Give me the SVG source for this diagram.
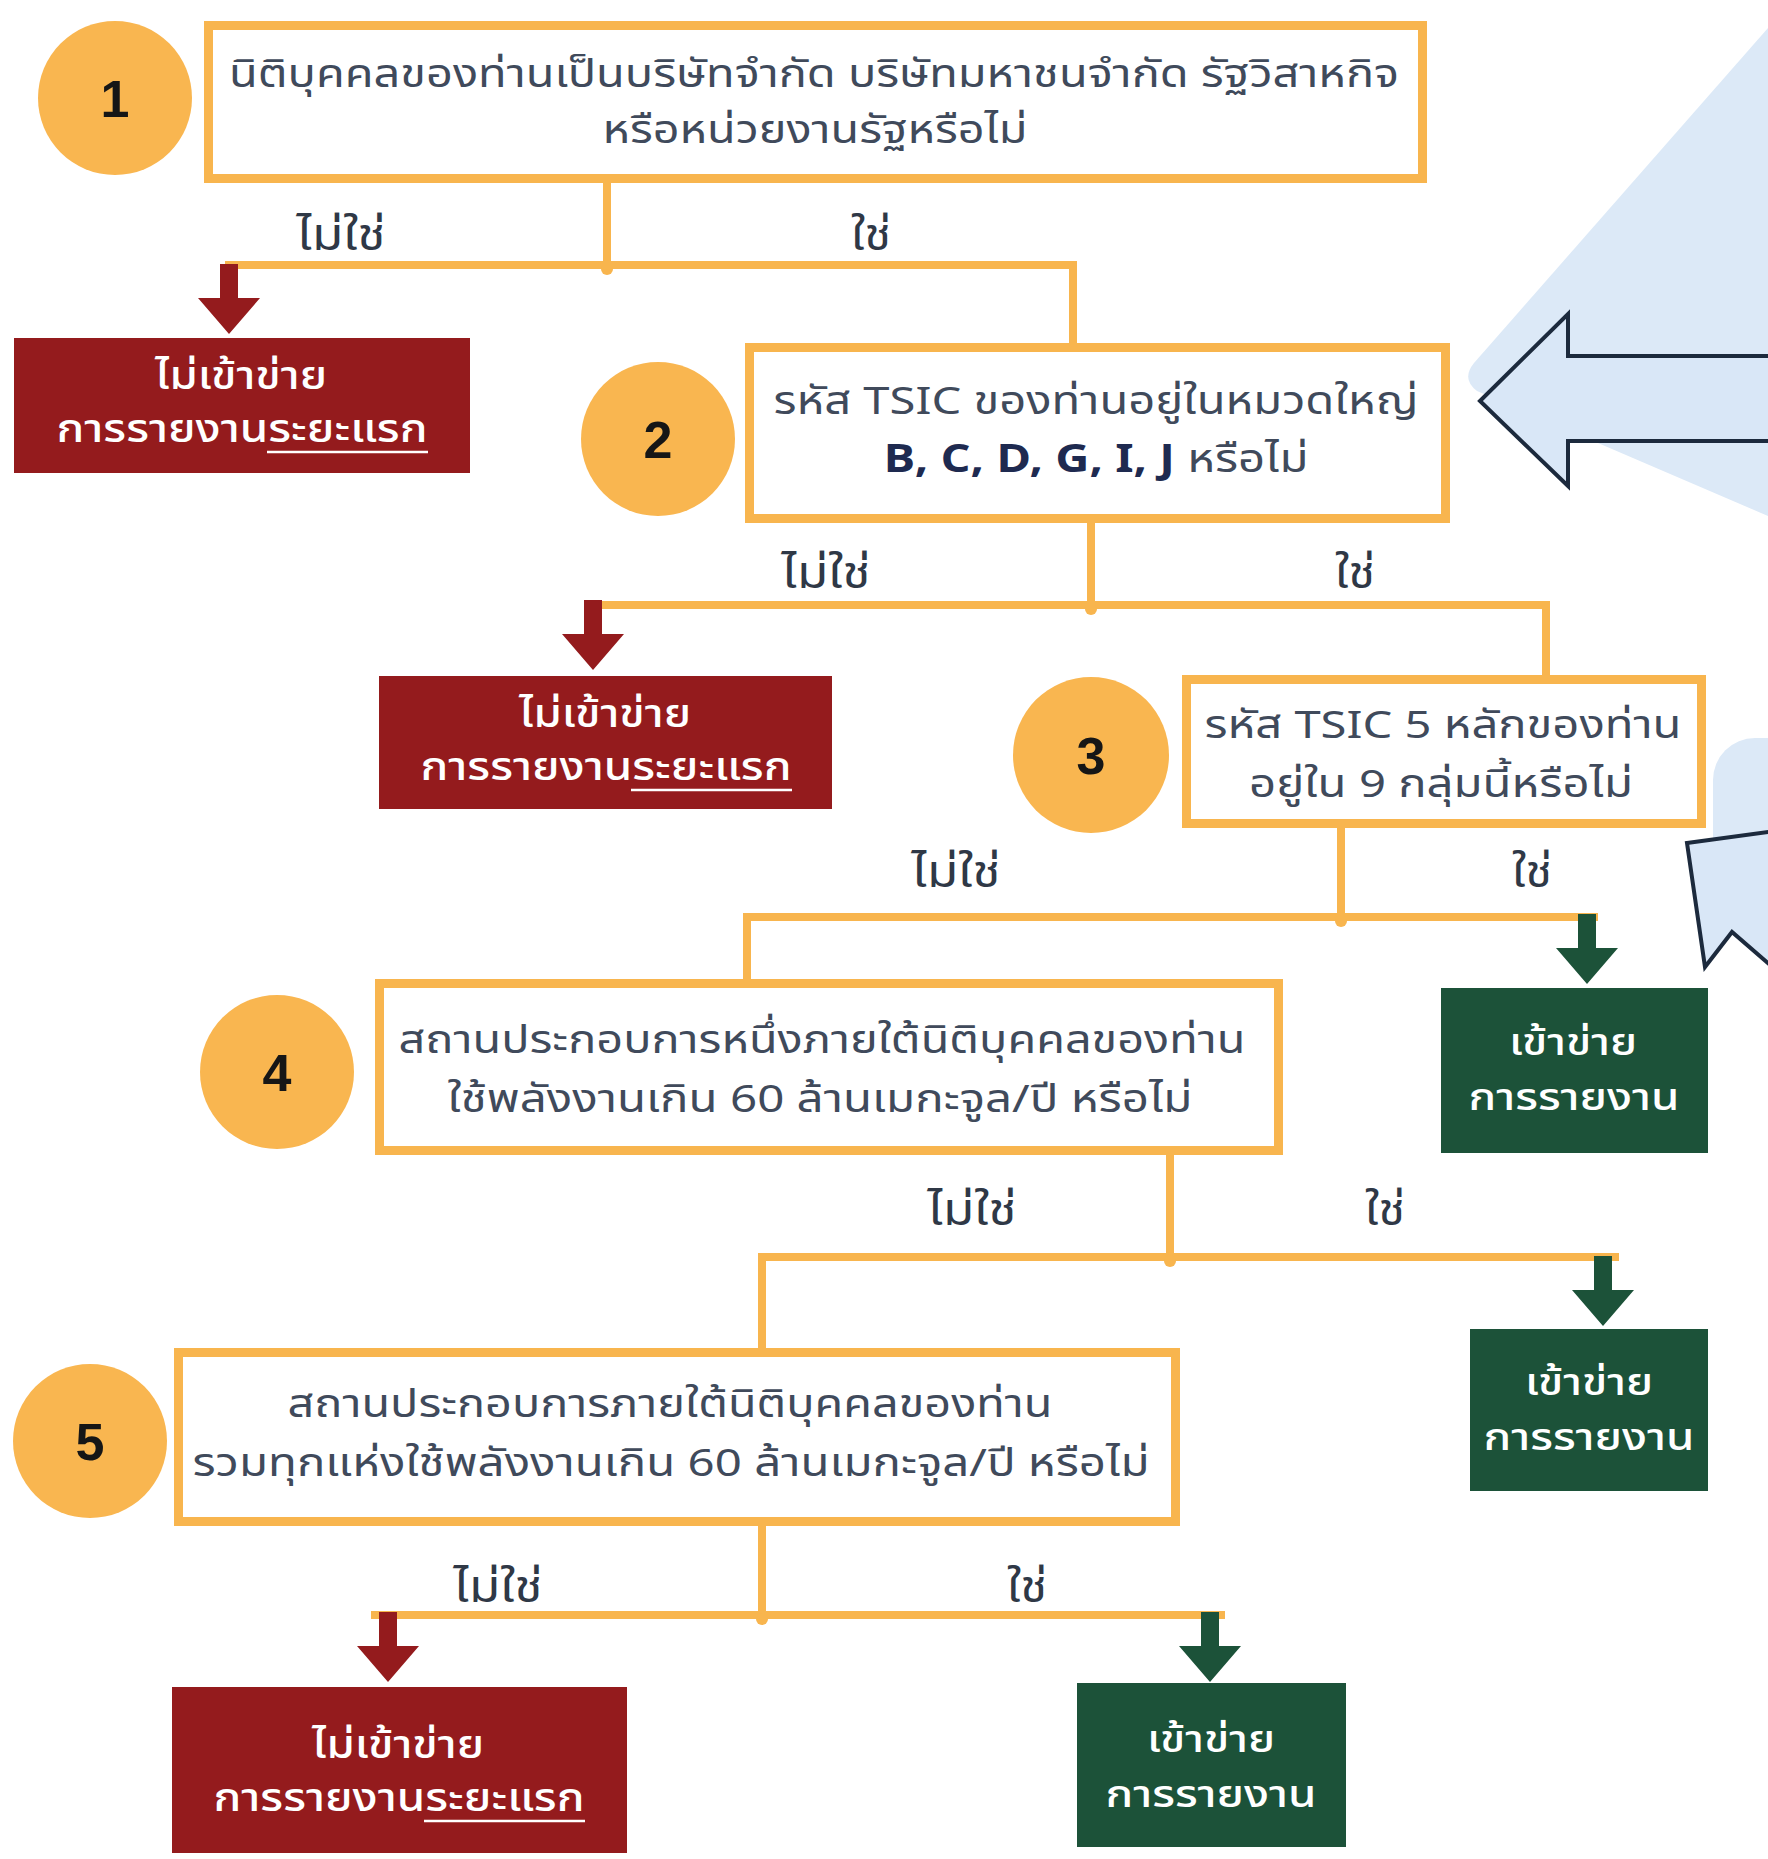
<svg xmlns="http://www.w3.org/2000/svg" width="1768" height="1859" viewBox="0 0 1768 1859">
<style>
.bg{fill:#ffffff}
.sky{fill:#dce9f7}
.hollow{fill:#d9e7f7;stroke:#1c2a3d;stroke-width:4;stroke-linejoin:miter}
.q{fill:#ffffff;stroke:#f8b54e;stroke-width:9}
.num{fill:#f9b650}
.numt{font-family:'Liberation Sans',Arial,sans-serif;font-weight:bold;font-size:52px;fill:#161616;text-anchor:middle}
.qt{font-family:'Noto Sans Thai','Noto Sans','Liberation Sans',sans-serif;font-size:39px;fill:#404a5b;text-anchor:middle}
.bold{font-weight:bold;fill:#1e2a50}
.lbl{font-family:'Noto Sans Thai','Noto Sans','Liberation Sans',sans-serif;font-size:44px;fill:#2f3846;text-anchor:middle}
.red{fill:#941b1d}
.green{fill:#1c5239}
.rt{font-family:'Noto Sans Thai','Noto Sans','Liberation Sans',sans-serif;font-size:40px;fill:#ffffff;text-anchor:middle;font-weight:500}
.gt{font-family:'Noto Sans Thai','Noto Sans','Liberation Sans',sans-serif;font-size:37px;fill:#ffffff;text-anchor:middle;font-weight:500}
.ul{stroke:#ffffff;stroke-width:2.5}
.conn{fill:none;stroke:#f8b54e;stroke-width:8;stroke-linejoin:miter}
.dot{fill:#f8b54e}
</style>
<defs>
<path id="arr" d="M-9,0 L9,0 L9,34 L31,34 L0,70 L-31,34 L-9,34 Z"/>
</defs>
<rect class="bg" x="0" y="0" width="1768" height="1859"/>

<g id="background-shapes">
<path class="sky" d="M1768,28 L1474,363 Q1461,379 1477,391 L1768,516 Z"/>
<path class="hollow" d="M1480,401 L1568,314 L1568,356 L1775,356 L1775,441 L1568,441 L1568,486 Z"/>
<rect class="sky" x="1713" y="738" width="130" height="190" rx="42"/>
<path class="hollow" d="M1687,843 L1790,829 L1790,982 L1732,932 L1705,967 Z"/>
</g>

<g id="connectors">
<path class="conn" d="M607,179 V265 M225,265 H1073 V347"/>
<circle class="dot" cx="607" cy="269" r="6"/>
<path class="conn" d="M1091,519 V605 M588,605 H1546 V679"/>
<circle class="dot" cx="1091" cy="609" r="6"/>
<path class="conn" d="M1341,824 V917 M747,917 H1598 M747,913 V983"/>
<circle class="dot" cx="1341" cy="921" r="6"/>
<path class="conn" d="M1170,1153 V1257 M762,1257 H1619 M762,1253 V1352"/>
<circle class="dot" cx="1170" cy="1261" r="6"/>
<path class="conn" d="M762,1522 V1615 M371,1615 H1225"/>
<circle class="dot" cx="762" cy="1619" r="6"/>
<use href="#arr" class="red" x="229" y="264"/>
<use href="#arr" class="red" x="593" y="600"/>
<use href="#arr" class="green" x="1587" y="914"/>
<use href="#arr" class="green" x="1603" y="1256"/>
<use href="#arr" class="red" x="388" y="1612"/>
<use href="#arr" class="green" x="1210" y="1612"/>
<text class="lbl" x="341" y="250" textLength="89" lengthAdjust="spacingAndGlyphs">ไม่ใช่</text>
<text class="lbl" x="871" y="250" textLength="40" lengthAdjust="spacingAndGlyphs">ใช่</text>
<text class="lbl" x="826" y="588" textLength="89" lengthAdjust="spacingAndGlyphs">ไม่ใช่</text>
<text class="lbl" x="1355" y="588" textLength="40" lengthAdjust="spacingAndGlyphs">ใช่</text>
<text class="lbl" x="956" y="887" textLength="89" lengthAdjust="spacingAndGlyphs">ไม่ใช่</text>
<text class="lbl" x="1532" y="887" textLength="40" lengthAdjust="spacingAndGlyphs">ใช่</text>
<text class="lbl" x="972" y="1225" textLength="89" lengthAdjust="spacingAndGlyphs">ไม่ใช่</text>
<text class="lbl" x="1385" y="1225" textLength="40" lengthAdjust="spacingAndGlyphs">ใช่</text>
<text class="lbl" x="498" y="1602" textLength="89" lengthAdjust="spacingAndGlyphs">ไม่ใช่</text>
<text class="lbl" x="1027" y="1602" textLength="40" lengthAdjust="spacingAndGlyphs">ใช่</text>
</g>

<g id="step1">
<circle class="num" cx="115" cy="98" r="77"/>
<text class="numt" x="115" y="117">1</text>
<rect class="q" x="208.5" y="25.5" width="1214" height="153"/>
<text class="qt" x="814" y="87" textLength="1170" lengthAdjust="spacingAndGlyphs">นิติบุคคลของท่านเป็นบริษัทจำกัด บริษัทมหาชนจำกัด รัฐวิสาหกิจ</text>
<text class="qt" x="815" y="143" textLength="425" lengthAdjust="spacingAndGlyphs">หรือหน่วยงานรัฐหรือไม่</text>
</g>

<g id="step2">
<circle class="num" cx="658" cy="439" r="77"/>
<text class="numt" x="658" y="458">2</text>
<rect class="q" x="749.5" y="347.5" width="696" height="171"/>
<text class="qt" x="1096" y="414" textLength="645" lengthAdjust="spacingAndGlyphs">รหัส TSIC ของท่านอยู่ในหมวดใหญ่</text>
<text class="qt" x="1096" y="472" textLength="425" lengthAdjust="spacingAndGlyphs"><tspan class="bold">B, C, D, G, I, J</tspan> หรือไม่</text>
</g>

<g id="step3">
<circle class="num" cx="1091" cy="755" r="78"/>
<text class="numt" x="1091" y="774">3</text>
<rect class="q" x="1186.5" y="679.5" width="515" height="144"/>
<text class="qt" x="1443" y="738" textLength="477" lengthAdjust="spacingAndGlyphs">รหัส TSIC 5 หลักของท่าน</text>
<text class="qt" x="1441" y="797" textLength="384" lengthAdjust="spacingAndGlyphs">อยู่ใน 9 กลุ่มนี้หรือไม่</text>
</g>

<g id="step4">
<circle class="num" cx="277" cy="1072" r="77"/>
<text class="numt" x="277" y="1091">4</text>
<rect class="q" x="379.5" y="983.5" width="899" height="167"/>
<text class="qt" x="822" y="1053" textLength="847" lengthAdjust="spacingAndGlyphs">สถานประกอบการหนึ่งภายใต้นิติบุคคลของท่าน</text>
<text class="qt" x="820" y="1112" textLength="745" lengthAdjust="spacingAndGlyphs">ใช้พลังงานเกิน 60 ล้านเมกะจูล/ปี หรือไม่</text>
</g>

<g id="step5">
<circle class="num" cx="90" cy="1441" r="77"/>
<text class="numt" x="90" y="1460">5</text>
<rect class="q" x="178.5" y="1352.5" width="997" height="169"/>
<text class="qt" x="670" y="1417" textLength="765" lengthAdjust="spacingAndGlyphs">สถานประกอบการภายใต้นิติบุคคลของท่าน</text>
<text class="qt" x="671" y="1476" textLength="957" lengthAdjust="spacingAndGlyphs">รวมทุกแห่งใช้พลังงานเกิน 60 ล้านเมกะจูล/ปี หรือไม่</text>
</g>

<g id="result1-no">
<rect class="red" x="14" y="338" width="456" height="135"/>
<text class="rt" x="241" y="389" textLength="172" lengthAdjust="spacingAndGlyphs">ไม่เข้าข่าย</text>
<text class="rt" x="242" y="442" textLength="371" lengthAdjust="spacingAndGlyphs">การรายงาน<tspan>ระยะแรก</tspan></text>
<line class="ul" x1="267" y1="452" x2="428" y2="452"/>
</g>

<g id="result2-no">
<rect class="red" x="379" y="676" width="453" height="133"/>
<text class="rt" x="605" y="727" textLength="172" lengthAdjust="spacingAndGlyphs">ไม่เข้าข่าย</text>
<text class="rt" x="606" y="780" textLength="371" lengthAdjust="spacingAndGlyphs">การรายงาน<tspan>ระยะแรก</tspan></text>
<line class="ul" x1="631" y1="790" x2="792" y2="790"/>
</g>

<g id="result3-yes">
<rect class="green" x="1441" y="988" width="267" height="165"/>
<text class="gt" x="1573" y="1055" textLength="128" lengthAdjust="spacingAndGlyphs">เข้าข่าย</text>
<text class="gt" x="1574" y="1110" textLength="211" lengthAdjust="spacingAndGlyphs">การรายงาน</text>
</g>

<g id="result4-yes">
<rect class="green" x="1470" y="1329" width="238" height="162"/>
<text class="gt" x="1589" y="1395" textLength="128" lengthAdjust="spacingAndGlyphs">เข้าข่าย</text>
<text class="gt" x="1589" y="1450" textLength="211" lengthAdjust="spacingAndGlyphs">การรายงาน</text>
</g>

<g id="result5-no">
<rect class="red" x="172" y="1687" width="455" height="166"/>
<text class="rt" x="398" y="1758" textLength="172" lengthAdjust="spacingAndGlyphs">ไม่เข้าข่าย</text>
<text class="rt" x="399" y="1811" textLength="371" lengthAdjust="spacingAndGlyphs">การรายงาน<tspan>ระยะแรก</tspan></text>
<line class="ul" x1="424" y1="1821" x2="585" y2="1821"/>
</g>

<g id="result5-yes">
<rect class="green" x="1077" y="1683" width="269" height="164"/>
<text class="gt" x="1211" y="1752" textLength="128" lengthAdjust="spacingAndGlyphs">เข้าข่าย</text>
<text class="gt" x="1211" y="1807" textLength="211" lengthAdjust="spacingAndGlyphs">การรายงาน</text>
</g>
</svg>
